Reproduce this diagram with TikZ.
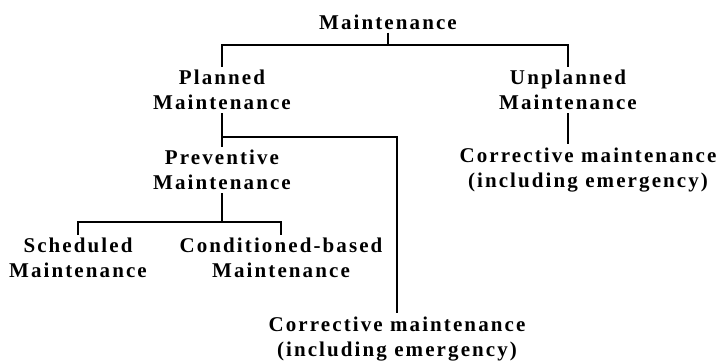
\documentclass[tikz,border=0pt]{standalone}
\usepackage{fontspec}
\setmainfont{Liberation Serif}[LetterSpace=10]
\begin{document}
\begin{tikzpicture}[x=1pt,y=-1pt,
  lbl/.style={font=\bfseries\fontsize{21}{25.5}\selectfont, align=center, inner sep=3pt},
  link/.style={line width=1.4pt}]
\useasboundingbox (0,0) rectangle (720,360);
% labels
\node[lbl] (root)   at (388,22)  {Maintenance};
\node[lbl] (plan)   at (222,90)  {Planned\\Maintenance};
\node[lbl] (unplan) at (568,90)  {Unplanned\\Maintenance};
\node[lbl] (prev)   at (222,170) {Preventive\\Maintenance};
\node[lbl] (sched)  at (78,258)  {Scheduled\\Maintenance};
\node[lbl] (cond)   at (281,258) {Conditioned-based\\Maintenance};
\node[lbl] (corrA)  at (397,339) {Corrective maintenance\\(including emergency)};
\node[lbl] (corrB)  at (588,170) {Corrective maintenance\\(including emergency)};
% tree connectors
\draw[link] (root.south) -- (root.south |- 0,45);
\draw[link] (plan.north) |- (unplan.north |- 0,45) -- (unplan.north);
\draw[link] (plan.south) -- (prev.north);
\draw[link] (plan.south |- 0,137) -| (corrA.north);
\draw[link] (prev.south) -- (prev.south |- 0,222);
\draw[link] (sched.north) |- (cond.north |- 0,222) -- (cond.north);
\draw[link] (unplan.south) -- (unplan.south |- corrB.north);
\end{tikzpicture}
\end{document}
